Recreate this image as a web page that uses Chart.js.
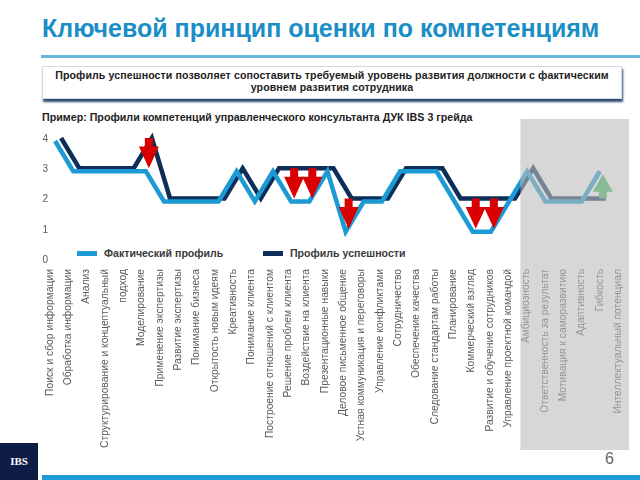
<!DOCTYPE html>
<html>
<head>
<meta charset="utf-8">
<script src="https://cdn.jsdelivr.net/npm/chart.js@4.4.1/dist/chart.umd.min.js"></script>
<style>
body { margin: 0; width: 640px; height: 480px; position: relative; overflow: hidden; background: #fff; font-family: "Liberation Sans", Arial, sans-serif; }
#title { position: absolute; left: 42px; top: 14px; font-size: 25px; font-weight: bold; color: #1b8ec6; white-space: nowrap; }
#rule { position: absolute; left: 41px; top: 55px; width: 599px; height: 3px; background: #6ab6d8; }
#note { position: absolute; left: 42px; top: 66px; width: 578px; height: 29px; background: #fff; border: 1px solid #d3dae2; box-shadow: 1px 3px 2px rgba(25,55,95,.9); text-align: center; font-size: 10.6px; letter-spacing: .1px; font-weight: bold; line-height: 12px; padding-top: 2px; color: #222; box-sizing: content-box; }
#sub { position: absolute; left: 42px; top: 111px; font-size: 10.7px; font-weight: bold; color: #222; white-space: nowrap; }
#legend { position: absolute; top: 246px; left: 0; font-size: 10.6px; font-weight: bold; color: #3a3a3a; }
#legend .item { position: absolute; white-space: nowrap; line-height: 14px; }
#legend .sw { display: inline-block; width: 20px; height: 5px; vertical-align: middle; margin-right: 7px; position: relative; top: -1px; }
#logo { position: absolute; left: 0; top: 443px; width: 38px; height: 37px; background: #0e1c46; color: #fff; font: bold 11px "Liberation Serif", serif; text-align: center; line-height: 37px; }
#bar { position: absolute; left: 42px; top: 475px; width: 598px; height: 5px; background: #1b9bd7; }
#page { position: absolute; left: 605px; top: 450px; font-size: 16px; color: #666; }
canvas { position: absolute; left: 0; top: 0; }
</style>
</head>
<body>
<div id="title">Ключевой принцип оценки по компетенциям</div>
<div id="rule"></div>
<div id="note">Профиль успешности позволяет сопоставить требуемый уровень развития должности с фактическим<br>уровнем развития сотрудника</div>
<div id="sub">Пример: Профили компетенций управленческого консультанта ДУК IBS 3 грейда</div>
<div id="legend"></div>
<div id="logo">IBS</div>
<div id="bar"></div>
<div id="page">6</div>
<canvas id="chart" width="640" height="480"></canvas>
<script>
// competencies, in slide order
const CATEGORIES = [
    'Поиск и сбор информации', 'Обработка информации', 'Анализ',
    ['Структурирование и концептуальный', 'подход'],
    'Моделирование', 'Применение экспертизы', 'Развитие экспертизы', 'Понимание бизнеса',
    'Открытость новым идеям', 'Креативность', 'Понимание клиента', 'Построение отношений с клиентом',
    'Решение проблем клиента', 'Воздействие на клиента', 'Презентационные навыки', 'Деловое письменное общение',
    'Устная коммуникация и переговоры', 'Управление конфликтами', 'Сотрудничество', 'Обеспечение качества',
    'Следование стандартам работы', 'Планирование', 'Коммерческий взгляд', 'Развитие и обучение сотрудников',
    'Управление проектной командой', 'Амбициозность', 'Ответственность за результат', 'Мотивация к саморазвитию',
    'Адаптивность', 'Гибкость', 'Интеллектуальный потенциал'
];
const ACTUAL   = [4,3,3,3,3,3,2,2,2,2,3,2,3,2,2,3,1,2,2,3,3,3,2,1,1,2,3,2,2,2,3];
const REQUIRED = [4,3,3,3,3,4,2,2,2,2,3,2,3,3,3,3,2,2,2,3,3,3,2,2,2,2,3,2,2,2,2];
const Y_TICKS  = [0,1,2,3,4];
const SERIES   = ['Фактический профиль', 'Профиль успешности'];
const GREY_FROM = 'Амбициозность';   // personal qualities block is shaded

const COLORS = ['#1b9ad3', '#0c2e58'];
const SHIFT  = [[0, 2], [6, -1]];   // the two lines sit a bit apart on the slide

const tickLines = CATEGORIES.flat();

// ── legend ──
const legendPos = [77, 263];
document.getElementById('legend').innerHTML = SERIES.map((s, i) =>
    `<div class="item" style="left:${legendPos[i]}px"><span class="sw" style="background:${COLORS[i]}"></span>${s}</div>`).join('');

const shiftLines = {
    id: 'shiftLines',
    beforeDatasetDraw(chart, args) { const [dx, dy] = SHIFT[args.index]; chart.ctx.save(); chart.ctx.translate(dx, dy); },
    afterDatasetDraw(chart) { chart.ctx.restore(); }
};

// gap arrows: red where actual < required, green where above
const gapArrows = {
    id: 'gapArrows',
    afterDatasetsDraw(chart) {
        const { ctx, scales: { x, y } } = chart;
        ACTUAL.forEach((a, i) => {
            const r = REQUIRED[i];
            if (a === r) return;
            const cx = x.getPixelForValue(i) + 3;
            const yFrom = y.getPixelForValue(r) + SHIFT[1][1];
            const yTo = y.getPixelForValue(a) + SHIFT[0][1];
            const dir = Math.sign(yTo - yFrom);
            const tip = yTo - dir * 3;
            const len = Math.abs(tip - yFrom);
            const neck = tip - dir * len * 0.72;
            ctx.save();
            ctx.fillStyle = a < r ? '#d80000' : '#3dbb5c';
            ctx.beginPath();
            ctx.moveTo(cx - 4, yFrom);
            ctx.lineTo(cx + 4, yFrom);
            ctx.lineTo(cx + 4, neck);
            ctx.lineTo(cx + 10, neck);
            ctx.lineTo(cx, tip);
            ctx.lineTo(cx - 10, neck);
            ctx.lineTo(cx - 4, neck);
            ctx.closePath();
            ctx.fill();
            ctx.restore();
        });
    }
};

const greyBlock = {
    id: 'greyBlock',
    afterDraw(chart) {
        const xl = chart.scales.xl;
        const left = xl.getPixelForValue(tickLines.indexOf(GREY_FROM)) - 6;
        const ctx = chart.ctx;
        ctx.save();
        ctx.fillStyle = 'rgba(188,188,188,0.6)';
        ctx.fillRect(left, 119, xl.right + 11 - left, 331);
        ctx.restore();
    }
};

new Chart(document.getElementById('chart'), {
    type: 'line',
    data: {
        datasets: [
            { label: SERIES[0], data: ACTUAL.map((v, i) => ({ x: i, y: v })), borderColor: COLORS[0], borderWidth: 4.5, pointRadius: 0, tension: 0, clip: false },
            { label: SERIES[1], data: REQUIRED.map((v, i) => ({ x: i, y: v })), borderColor: COLORS[1], borderWidth: 4.5, pointRadius: 0, tension: 0, clip: false }
        ]
    },
    options: {
        responsive: false,
        animation: false,
        layout: { padding: { top: 139, left: 30, right: 22, bottom: 0 } },
        plugins: { legend: { display: false }, tooltip: { enabled: false } },
        scales: {
            x: { type: 'linear', min: -0.28, max: 31.0, display: false },
            xl: {
                type: 'category', labels: tickLines, position: 'bottom', offset: false,
                grid: { display: false, drawTicks: false }, border: { display: false },
                ticks: { autoSkip: false, minRotation: 90, maxRotation: 90, padding: 9, color: '#5a5a5a', font: { family: 'Liberation Sans', size: 10.3 } },
                afterFit: s => { s.height = 220; }
            },
            y: {
                min: 0, max: 4,
                afterBuildTicks: s => { s.ticks = Y_TICKS.map(v => ({ value: v })); },
                grid: { display: false, drawTicks: false }, border: { display: false },
                ticks: { padding: 2, color: '#5a5a5a', font: { family: 'Liberation Sans', size: 10 } },
                afterFit: s => { s.width = 20; }
            }
        }
    },
    plugins: [shiftLines, gapArrows, greyBlock]
});
</script>
</body>
</html>
